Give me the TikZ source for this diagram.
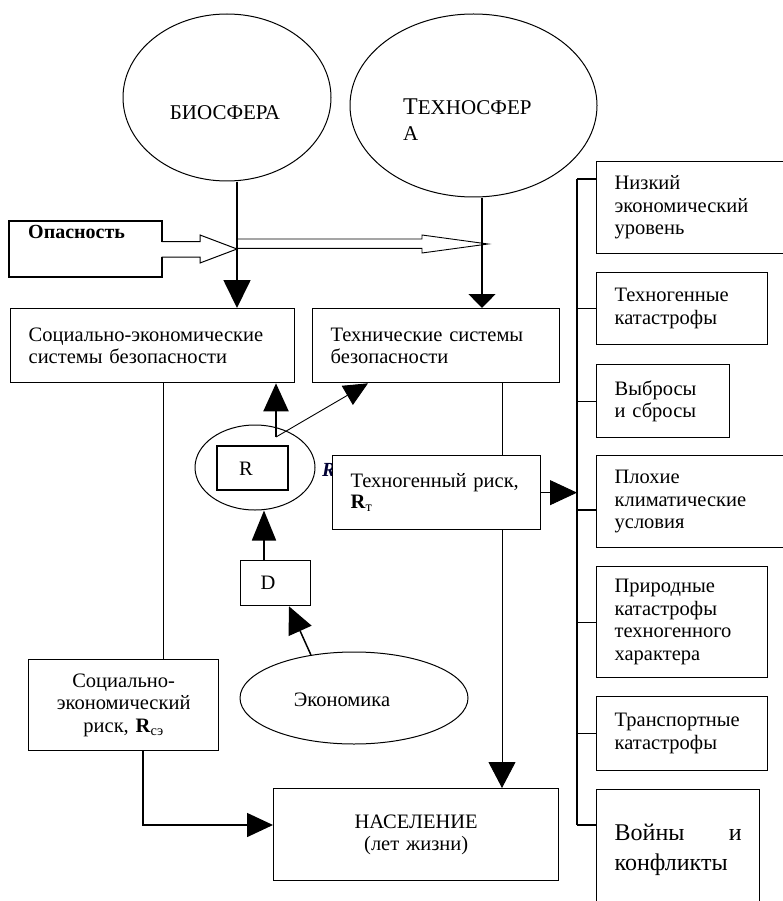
\documentclass[tikz,border=0pt]{standalone}
\usepackage{fontspec}
\setmainfont{Liberation Serif}
\usetikzlibrary{arrows.meta,shapes.geometric}
\newcommand\mainfs{\fontsize{20.5pt}{22.5pt}\selectfont}
\newcommand\capfs{\fontsize{21pt}{26pt}\selectfont}
\tikzset{
  fr/.style={draw, line width=1.3pt, fill=white, anchor=north west, inner ysep=0pt, inner xsep=18pt, align=left, font=\mainfs},
  ell/.style={draw, ellipse, line width=1pt, inner sep=0pt},
  txt/.style={inner sep=0pt, font=\mainfs},
  thinln/.style={line width=0.9pt},
  thickln/.style={line width=1.8pt},
}
\begin{document}
\begin{tikzpicture}[x=1pt,y=-1pt]
\useasboundingbox (0,0) rectangle (782,901);
\fill[white] (0,0) rectangle (782,901);

% spheres
\node[ell, minimum width=208pt, minimum height=167pt] (bio) at (227,97.5) {};
\node[inner sep=0pt, font=\capfs] (biot) at (225,113) {БИОСФЕРА};
\node[ell, minimum width=247pt, minimum height=183pt] (tech) at (473.5,105.5) {};
\node[inner sep=0pt, anchor=north west, align=left, font=\capfs] (techt) at (403,99) {{\fontsize{24pt}{26pt}\selectfont Т}ЕХНОСФЕР\\А};

% danger
\draw[line width=1pt] (9,221) -- (162,221) -- (162,241.7) -- (200,241.7) -- (200,235) -- (237,249) -- (200,263) -- (200,257) -- (162,257) -- (162,277) -- (9,277) -- cycle;
\draw[line width=1.4pt] (162,241.7) -- (162,221) -- (9,221) -- (9,277) -- (162,277) -- (162,257);
\node[inner sep=0pt, anchor=west, font=\bfseries\fontsize{20pt}{22pt}\selectfont] (opt) at (28,232) {Опасность};
\draw[line width=0.9pt] (237,239) -- (422,239) -- (422,235) -- (488,244) -- (422,253) -- (422,248.3) -- (237,248.3);

% main boxes
\node[fr, text width=248pt, minimum height=74pt] (se) at (10,308) {Социально-экономические\\системы безопасности};
\node[fr, text width=211pt, minimum height=74pt] (ts) at (312,308) {Технические системы\\безопасности};

\coordinate (bioa) at (237,182);
\coordinate (techa) at (482,198);
\draw[thickln, -{Triangle[length=28pt,width=27pt]}] (bioa) -- (bioa |- se.north);
\draw[line width=1.4pt, -{Triangle[length=14pt,width=27pt]}] (techa) -- (techa |- ts.north);

% lower left
\node[fr, align=center, text width=154pt, minimum height=91pt] (ser) at (28,659) {Социально-\\экономический\\риск, \textbf{R}\textsubscript{сэ}};
\node[fr, align=center, text width=249pt, minimum height=92pt] (pop) at (273,788) {НАСЕЛЕНИЕ\\ (лет жизни)};
\coordinate (x163) at (163,0);
\draw[thinln] (se.south -| x163) -- (ser.north -| x163);
\coordinate (x143) at (143,0);
\coordinate (y825) at (0,825);
\draw[line width=1.5pt, -{Triangle[length=26pt,width=24pt]}] (ser.south -| x143) |- (pop.west |- y825);
\coordinate (x502) at (502,0);
\draw[thinln, -{Triangle[length=26pt,width=27pt]}] (ts.south -| x502) -- (pop.north -| x502);

% techno risk
\node[inner sep=0pt, anchor=base west, font=\bfseries\itshape\fontsize{20pt}{22pt}\selectfont, text=black!80!blue] (rit) at (322,476) {R};
\node[fr, text width=172pt, minimum height=74pt, font=\fontsize{20.5pt}{20.5pt}\selectfont] (tr) at (332,455) {Техногенный риск,\\\textbf{R}\textsubscript{т}};

% right column
\coordinate (vx) at (577,0);
\coordinate (s1) at (577,179);
\coordinate (s4) at (577,510);
\coordinate (s7) at (577,825);
\draw[line width=1.6pt] (s1) -- (s7);
\node[fr, text width=152pt, minimum height=92pt] (b1) at (596,161) {Низкий\\экономический\\уровень};
\node[fr, text width=135pt, minimum height=72pt] (b2) at (596,272) {Техногенные\\катастрофы};
\node[fr, text width=97pt, minimum height=73pt] (b3) at (596,364) {Выбросы\\и сбросы};
\node[fr, text width=152pt, minimum height=92pt] (b4) at (596,455) {Плохие\\климатические\\условия};
\node[fr, text width=135pt, minimum height=111pt] (b5) at (596,566) {Природные\\катастрофы\\техногенного\\характера};
\node[fr, text width=135pt, minimum height=74pt] (b6) at (596,696) {Транспортные\\катастрофы};
\node[fr, text width=127pt, minimum height=120pt, inner xsep=18pt, font=\fontsize{24pt}{30pt}\selectfont] (b7) at (596,789) {Войны \hfill и\\конфликты};
\draw[line width=1.3pt] (s1) -- (s1 -| b1.west);
\draw[line width=1.3pt] (b2.west -| vx) -- (b2.west);
\draw[line width=1.3pt] (b3.west -| vx) -- (b3.west);
\draw[line width=1.3pt] (s4) -- (s4 -| b4.west);
\draw[line width=1.3pt] (b5.west -| vx) -- (b5.west);
\draw[line width=1.3pt] (b6.west -| vx) -- (b6.west);
\draw[line width=1.3pt] (s7) -- (s7 -| b7.west);
\draw[thinln, -{Triangle[length=27pt,width=25pt]}] (tr.east) -- (tr.east -| vx);

% R block
\node[ell, minimum width=120pt, minimum height=85pt] (rell) at (255,467.5) {};
\node[draw, line width=1.3pt, minimum width=71pt, minimum height=44pt, inner sep=0pt] (rbox) at (252.5,468) {};
\node[txt] (rt) at (246,469) {R};
\coordinate (rup) at (276,437);
\coordinate (x368) at (368,0);
\draw[line width=2pt, -{Triangle[length=28pt,width=25pt]}] (rup) -- (rup |- se.south);
\draw[thinln, -{Triangle[length=24pt,width=22pt]}] (rup) -- (ts.south -| x368);

% D and economy
\node[draw, line width=1.3pt, anchor=north west, minimum width=70pt, minimum height=45pt, inner sep=0pt] (dbox) at (240,560) {};
\node[txt] (dt) at (268,583) {D};
\coordinate (x264) at (264,0);
\draw[line width=1.8pt, -{Triangle[length=30pt,width=24pt]}] (dbox.north -| x264) -- (rell.south -| x264);
\node[ell, minimum width=228pt, minimum height=92pt] (econ) at (354,698) {};
\node[txt] (et) at (342,700) {Экономика};
\coordinate (x289) at (289,0);
\draw[line width=1.5pt, -{Triangle[length=27pt,width=25pt]}] (econ.135) -- (dbox.south -| x289);
\end{tikzpicture}
\end{document}
